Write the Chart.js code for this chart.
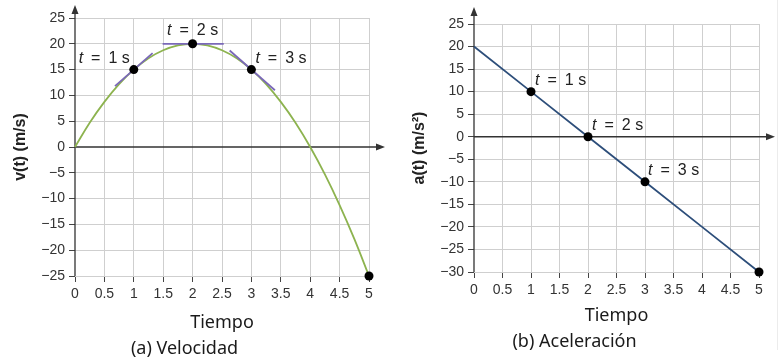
<!DOCTYPE html>
<html>
<head>
<meta charset="utf-8">
<script src="https://cdn.jsdelivr.net/npm/chart.js@4/dist/chart.umd.min.js"></script>
<style>
  body { margin: 0; background: #fff; }
  #wrap { position: relative; width: 783px; height: 361px; overflow: hidden; }
  #velWrap { position: absolute; left: 0; top: 0; }
  #accWrap { position: absolute; left: 390px; top: 0; }
  #edge { position: absolute; left: 777px; top: 0; width: 1px; height: 350px; background: #ececec; }
</style>
</head>
<body>
<div id="wrap">
  <div id="velWrap"><canvas id="velChart" width="390" height="361"></canvas></div>
  <div id="accWrap"><canvas id="accChart" width="393" height="361"></canvas></div>
  <div id="edge"></div>
</div>
<script>
// (a) velocity curve
const velTimes  = [0, 0.25, 0.5, 0.75, 1, 1.25, 1.5, 1.75, 2, 2.25, 2.5, 2.75, 3, 3.25, 3.5, 3.75, 4, 4.25, 4.5, 4.75, 5];
const velValues = [0, 4.7, 8.75, 12.2, 15, 17.2, 18.75, 19.7, 20, 19.7, 18.75, 17.2, 15, 12.2, 8.75, 4.7, 0, -5.3, -11.25, -17.8, -25];
const velMarkTimes  = [1, 2, 3, 5];
const velMarkValues = [15, 20, 15, -25];
const velLabelTimes  = [1, 2, 3];
const velLabelValues = [15, 20, 15];
const velLabels = ['t = 1 s', 't = 2 s', 't = 3 s'];

// tangent segments on the velocity curve
const tan1Times = [0.68, 1.32], tan1Values = [11.8, 18.2];
const tan2Times = [1.49, 2.53], tan2Values = [20, 20];
const tan3Times = [2.63, 3.4],  tan3Values = [18.7, 11];

// (b) acceleration line
const accTimes  = [0, 1, 2, 3, 4, 5];
const accValues = [20, 10, 0, -10, -20, -30];
const accMarkTimes  = [1, 2, 3, 5];
const accMarkValues = [10, 0, -10, -30];
const accLabelTimes  = [1, 2, 3];
const accLabelValues = [10, 0, -10];
const accLabels = ['t = 1 s', 't = 2 s', 't = 3 s'];

const pts = (xs, ys) => xs.map((x, i) => ({ x: x, y: ys[i] }));
const minus = v => v < 0 ? '\u2212' + (-v) : String(v);

// axes through the origin with arrow heads
const axesArrows = {
  id: 'axesArrows',
  beforeDatasetsDraw(chart, args, opts) {
    const { ctx, chartArea: a, scales: { x, y } } = chart;
    const x0 = x.getPixelForValue(0), y0 = y.getPixelForValue(0);
    ctx.save();
    ctx.strokeStyle = '#333';
    ctx.fillStyle = '#333';
    ctx.lineWidth = 1.3;
    ctx.beginPath();
    ctx.moveTo(x0, a.bottom);
    ctx.lineTo(x0, a.top - opts.up + 4);
    ctx.moveTo(a.left, y0);
    ctx.lineTo(a.right + opts.right - 4, y0);
    ctx.stroke();
    ctx.beginPath();
    ctx.moveTo(x0, a.top - opts.up);
    ctx.lineTo(x0 - 3.5, a.top - opts.up + 9);
    ctx.lineTo(x0 + 3.5, a.top - opts.up + 9);
    ctx.closePath();
    ctx.moveTo(a.right + opts.right, y0);
    ctx.lineTo(a.right + opts.right - 9, y0 - 3.5);
    ctx.lineTo(a.right + opts.right - 9, y0 + 3.5);
    ctx.closePath();
    ctx.fill();
    ctx.restore();
  }
};

// "t = n s" notes next to the marked points
const pointNotes = {
  id: 'pointNotes',
  afterDatasetsDraw(chart, args, opts) {
    const { ctx, scales: { x, y } } = chart;
    ctx.save();
    ctx.fillStyle = '#222';
    ctx.textBaseline = 'middle';
    opts.texts.forEach((txt, i) => {
      const px = x.getPixelForValue(opts.times[i]) + opts.dx[i];
      const py = y.getPixelForValue(opts.values[i]) + opts.dy[i];
      const rest = txt.slice(1).replace(' = ', '\u2002=\u2002');
      ctx.font = 'italic 16px "Liberation Sans"';
      const w1 = ctx.measureText(txt[0]).width;
      ctx.font = '16px "Liberation Sans"';
      const w2 = ctx.measureText(rest).width;
      let sx = px;
      if (opts.align[i] === 'right') sx = px - w1 - w2;
      if (opts.align[i] === 'center') sx = px - (w1 + w2) / 2;
      ctx.textAlign = 'left';
      ctx.font = 'italic 16px "Liberation Sans"';
      ctx.fillText(txt[0], sx, py);
      ctx.font = '16px "Liberation Sans"';
      ctx.fillText(rest, sx + w1, py);
    });
    ctx.restore();
  }
};

function makeOptions(cfg) {
  return {
    responsive: false,
    animation: false,
    layout: { padding: { top: cfg.top, right: cfg.right, left: 0, bottom: 0 } },
    plugins: {
      legend: { display: false },
      tooltip: { enabled: false },
      title: {
        display: true,
        position: 'bottom',
        text: cfg.caption,
        color: '#1a1a1a',
        font: { family: '"Noto Sans"', size: 18, weight: 'normal' },
        padding: { top: 0, bottom: cfg.captionPad }
      },
      axesArrows: { up: cfg.up, right: 16 },
      pointNotes: cfg.notes
    },
    scales: {
      x: {
        type: 'linear',
        min: 0, max: 5,
        afterFit: s => { s.height = cfg.xHeight; },
        border: { display: false },
        grid: {
          color: c => c.tick.value === 0 ? 'rgba(0,0,0,0)' : '#cfcfcf',
          tickColor: '#444',
          tickLength: 6
        },
        ticks: {
          stepSize: 0.5,
          padding: 4,
          color: '#333',
          font: { family: '"Liberation Sans"', size: 14 },
          callback: v => String(v)
        },
        title: {
          display: true,
          text: 'Tiempo',
          color: '#1a1a1a',
          font: { family: '"Noto Sans"', size: 18 },
          padding: { top: 4, bottom: 5 }
        }
      },
      y: {
        min: cfg.yMin, max: 25,
        afterFit: s => { s.width = cfg.yWidth; },
        border: { display: false },
        grid: {
          color: c => c.tick.value === 0 ? 'rgba(0,0,0,0)' : '#cfcfcf',
          tickColor: '#444',
          tickLength: 6
        },
        ticks: {
          stepSize: 5,
          padding: 4,
          color: '#333',
          font: { family: '"Liberation Sans"', size: 14 },
          callback: minus
        },
        title: {
          display: true,
          text: cfg.yTitle,
          color: '#222',
          font: { family: '"Liberation Sans"', size: 16, weight: 'bold' },
          padding: { top: cfg.yTitlePad, bottom: 0 }
        }
      }
    }
  };
}

// lower order is drawn on top
const marks = (xs, ys) => ({
  data: pts(xs, ys),
  showLine: false,
  pointRadius: 4.5,
  pointBackgroundColor: '#000',
  pointBorderWidth: 0,
  clip: false,
  order: 1
});
const tangent = (xs, ys) => ({
  data: pts(xs, ys),
  borderColor: '#7a68b8',
  borderWidth: 1.8,
  pointRadius: 0,
  order: 2
});

new Chart(document.getElementById('velChart').getContext('2d'), {
  type: 'line',
  data: {
    datasets: [
      {
        data: pts(velTimes, velValues),
        borderColor: '#8db34f',
        borderWidth: 1.8,
        pointRadius: 0,
        tension: 0.4,
        clip: false,
        order: 3
      },
      tangent(tan1Times, tan1Values),
      tangent(tan2Times, tan2Values),
      tangent(tan3Times, tan3Values),
      marks(velMarkTimes, velMarkValues)
    ]
  },
  options: makeOptions({
    top: 18, right: 21, up: 13, yMin: -25,
    xHeight: 62.4, yWidth: 75, captionPad: 1,
    caption: '(a) Velocidad',
    yTitle: 'v(t) (m/s)', yTitlePad: 11,
    notes: {
      texts: velLabels, times: velLabelTimes, values: velLabelValues,
      dx: [-4, 0, 4], dy: [-11, -13, -11], align: ['right', 'center', 'left']
    }
  }),
  plugins: [axesArrows, pointNotes]
});

new Chart(document.getElementById('accChart').getContext('2d'), {
  type: 'line',
  data: {
    datasets: [
      {
        data: pts(accTimes, accValues),
        borderColor: '#2d4e7a',
        borderWidth: 1.8,
        pointRadius: 0,
        clip: false,
        order: 2
      },
      marks(accMarkTimes, accMarkValues)
    ]
  },
  options: makeOptions({
    top: 24, right: 24, up: 17, yMin: -30,
    xHeight: 59.4, yWidth: 84, captionPad: 8,
    caption: '(b) Aceleración',
    yTitle: 'a(t) (m/s²)', yTitlePad: 19.5,
    notes: {
      texts: accLabels, times: accLabelTimes, values: accLabelValues,
      dx: [4, 4, 3], dy: [-11, -11, -11], align: ['left', 'left', 'left']
    }
  }),
  plugins: [axesArrows, pointNotes]
});
</script>
</body>
</html>
